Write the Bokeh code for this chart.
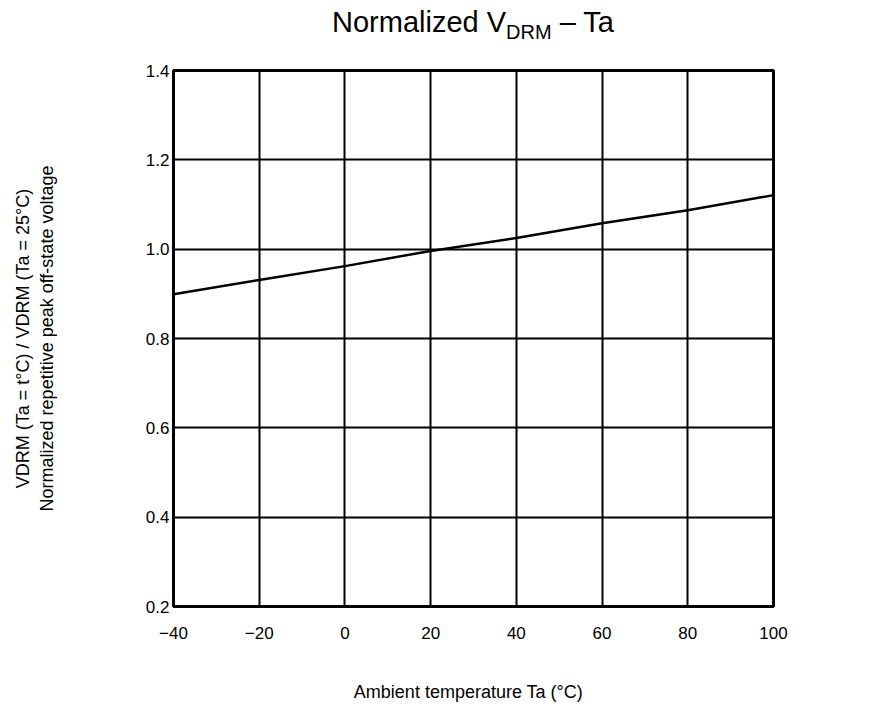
from bokeh.plotting import figure
from bokeh.models import FixedTicker, Range1d, Div
from bokeh.layouts import column
from bokeh.embed import file_html
from bokeh.resources import INLINE

# data
temps = [-40, -20, 0, 20, 40, 60, 80, 100]
ratio = [0.899, 0.931, 0.962, 0.996, 1.025, 1.058, 1.087, 1.121]
x_ticks = [-40, -20, 0, 20, 40, 60, 80, 100]
y_ticks = [0.2, 0.4, 0.6, 0.8, 1.0, 1.2, 1.4]

FONT = "Liberation Sans"

title = Div(text="Normalized V<sub style='font-size:20px'>DRM</sub> – Ta",
            width=600, height=50, margin=(0, 0, 0, 173),
            styles={"font-family": FONT, "font-size": "29px", "color": "black",
                    "text-align": "center", "width": "600px", "padding-top": "2px"})

p = figure(width=869, height=654, output_backend="svg", toolbar_location=None,
           x_range=Range1d(-40, 100), y_range=Range1d(0.2, 1.4),
           min_border_left=173, min_border_right=96, min_border_top=20,
           min_border_bottom=93)

p.line(temps, ratio, line_color="black", line_width=2.5)

for ax in (p.xaxis[0], p.yaxis[0]):
    ax.major_tick_in = 0
    ax.major_tick_out = 0
    ax.minor_tick_in = 0
    ax.minor_tick_out = 0
    ax.axis_line_color = "black"
    ax.axis_line_width = 3
    ax.major_label_text_font = FONT
    ax.major_label_text_font_size = "17px"
    ax.major_label_text_color = "black"
    ax.major_label_standoff = 4
    ax.axis_label_text_font = FONT
    ax.axis_label_text_font_style = "normal"
    ax.axis_label_text_font_size = "18px"
    ax.axis_label_text_color = "black"

p.xaxis.ticker = FixedTicker(ticks=x_ticks)
p.yaxis.ticker = FixedTicker(ticks=y_ticks)
p.yaxis.major_label_overrides = {v: f"{v:.1f}" for v in y_ticks}
p.xaxis.major_label_standoff = 20

p.xaxis.axis_label = "Ambient temperature  Ta  (°C)"
p.xaxis.axis_label_standoff = 40

p.yaxis.axis_label = ("VDRM (Ta = t°C) / VDRM (Ta = 25°C)\n"
                      "Normalized repetitive peak off-state voltage")
p.yaxis.axis_label_standoff = 86

p.xgrid.ticker = FixedTicker(ticks=x_ticks)
p.ygrid.ticker = FixedTicker(ticks=y_ticks)
p.grid.grid_line_color = "black"
p.grid.grid_line_width = 2
p.grid.grid_line_alpha = 1.0

p.outline_line_color = "black"
p.outline_line_width = 3
p.outline_line_alpha = 1.0
p.background_fill_color = "white"
p.border_fill_color = "white"

layout = column(title, p, spacing=0)

open("out.html", "w").write(file_html(layout, INLINE))
